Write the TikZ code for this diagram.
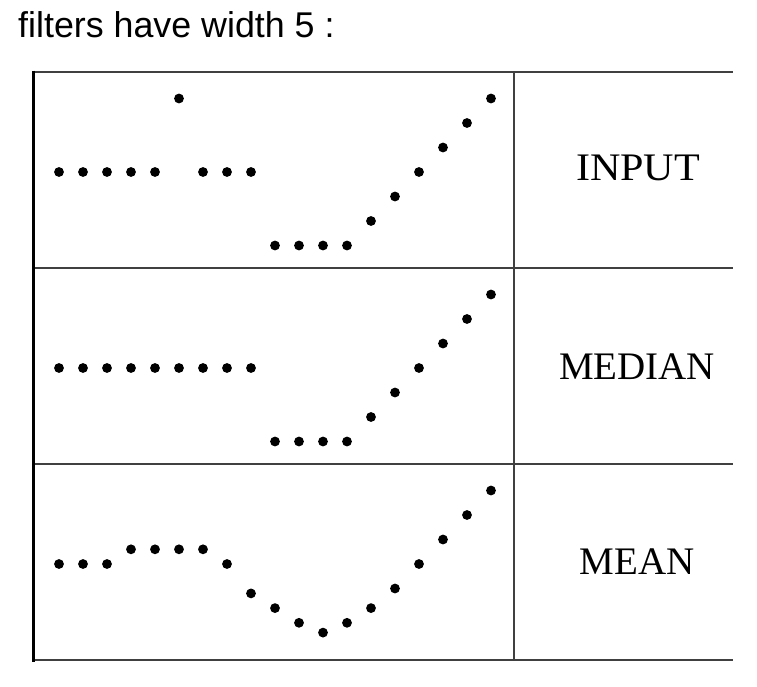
\documentclass[tikz,border=0pt]{standalone}
\usepackage{fontspec}
\setmainfont{Liberation Serif}
\newfontfamily\titlefont{Liberation Sans}
\usetikzlibrary{positioning}

\begin{document}
\begin{tikzpicture}[x=1pt, y=-1pt,
                  rule/.style={draw=black!75, line width=2pt},
                  pt/.style={fill=black},
                  rowlabel/.style={font=\fontsize{39}{39}\selectfont}]

                  \useasboundingbox (0,0) rectangle (757,686);

                  % Title of the figure.
                  \node[anchor=base west, inner sep=0pt,
                        font=\titlefont\fontsize{35.8}{35.8}\selectfont]
                        (title) at (18,37.5) {filters have width 5 :};

                  % Table frame.
                  \draw[rule] (33,72) -- (733,72)
                  (33,267.5) -- (733,267.5)
                  (33,464) -- (733,464)
                  (33,660) -- (733,660)
                  (513.5,72) -- (513.5,660);
                  \draw[line width=3pt] (33,70.5) -- (33,661.5);

                  % Row labels.
                  \node[rowlabel, xscale=1.08] (input) at (638,168) {INPUT};
                  \node[rowlabel] (median) at (637,367) {MEDIAN};
                  \node[rowlabel] (mean) at (637,562) {MEAN};

                  % The three signals, one dot per sample.
                  \foreach \v [count=\i from 0] in
                  {0,0,0,0,0,3,0,0,0,-3,-3,-3,-3,-2,-1,0,1,2,3}
                  \fill[pt] (59+24*\i, 172-24.5*\v) circle (4.9);
                  \foreach \v [count=\i from 0] in
                  {0,0,0,0,0,0,0,0,0,-3,-3,-3,-3,-2,-1,0,1,2,3}
                  \fill[pt] (59+24*\i, 368-24.5*\v) circle (4.9);
                  \foreach \v [count=\i from 0] in
                  {0,0,0,0.6,0.6,0.6,0.6,0,-1.2,-1.8,-2.4,-2.8,-2.4,-1.8,-1,0,1,2,3}
                  \fill[pt] (59+24*\i, 564-24.5*\v) circle (4.9);

\end{tikzpicture}
\end{document}
